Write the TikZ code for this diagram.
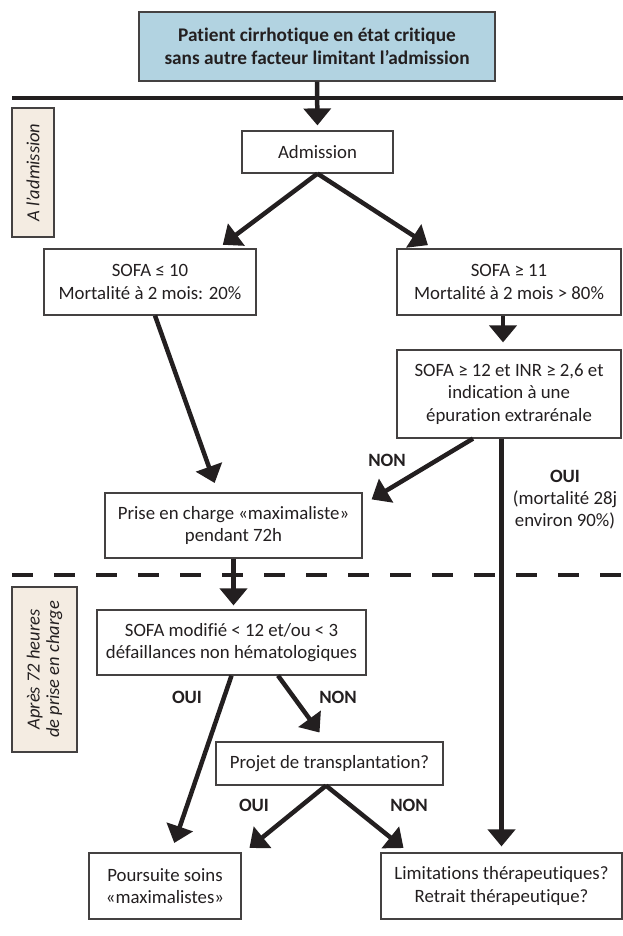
\documentclass[tikz,border=0pt]{standalone}
\usepackage{fontspec}
\setmainfont{Carlito}[Ligatures=NoCommon]
\usetikzlibrary{arrows.meta}

\definecolor{boxblue}{RGB}{178,211,225}
\definecolor{tagbeige}{RGB}{244,236,226}
\definecolor{inkgray}{RGB}{35,31,32}

\begin{document}
\begin{tikzpicture}[x=1pt,y=-1pt,font=\fontsize{18.8}{22.5}\selectfont,
		box/.style={draw=inkgray!85,line width=1.2pt,align=center,inner sep=0pt,text=inkgray},
		tag/.style={box,fill=tagbeige,rotate=90,font=\fontsize{18.5}{19.5}\selectfont\itshape},
		flow/.style={line width=4.5pt,draw=inkgray,-{Triangle[width=27pt,length=17pt]}},
		answer/.style={font=\fontsize{18.8}{22}\selectfont\bfseries,text=inkgray}]
			\useasboundingbox (0,0) rectangle (623,936);
			% boxes
			\node[box,fill=boxblue,minimum width=356pt,minimum height=69pt,font=\fontsize{19.3}{23}\selectfont\bfseries] (patient) at (317,46.5) {Patient cirrhotique en état critique\\sans autre facteur limitant l’admission};
			\node[box,minimum width=151pt,minimum height=42pt] (adm) at (317.5,152) {Admission};
			\node[box,minimum width=212pt,minimum height=66pt] (sofa10) at (150,282) {SOFA ≤ 10\\Mortalité à 2 mois: 20\%};
			\node[box,minimum width=224pt,minimum height=66pt] (sofa11) at (509,282) {SOFA ≥ 11\\Mortalité à 2 mois > 80\%};
			\node[box,minimum width=224pt,minimum height=88pt] (sofa12) at (509,394) {SOFA ≥ 12 et INR ≥ 2,6 et\\indication à une\\épuration extrarénale};
			\node[box,minimum width=257pt,minimum height=65pt] (prise) at (233.5,525.5) {Prise en charge «maximaliste»\\pendant 72h};
			\node[box,minimum width=269pt,minimum height=65pt] (sofamod) at (231.5,642.5) {SOFA modifié < 12 et/ou < 3\\défaillances non hématologiques};
			\node[box,minimum width=227pt,minimum height=43pt] (projet) at (329.5,763.5) {Projet de transplantation?};
			\node[box,minimum width=152pt,minimum height=66pt] (poursuite) at (165,886) {Poursuite soins\\«maximalistes»};
			\node[box,minimum width=241pt,minimum height=66pt] (limit) at (501.5,886) {Limitations thérapeutiques?\\Retrait thérapeutique?};
			% side tags
			\node[tag,minimum width=129pt,minimum height=42pt] (tagadm) at (33,172.5) {A l’admission};
			\node[tag,minimum width=165pt,minimum height=65pt] (tagapres) at (44.5,669.5) {Après 72 heures\\de prise en charge};
			% period rules
			\draw[line width=4.5pt,inkgray] (12,98) -- (623,98);
			\draw[line width=4.5pt,inkgray,dash pattern=on 21pt off 21pt] (12,575) -- (623,575);
			% arrows
			\draw[flow,shorten >=5pt] (patient.south) -- (adm.north);
			\draw[flow,shorten >=6pt] (adm.south) -- ([xshift=68pt]sofa10.north);
			\draw[flow,shorten >=6pt] (adm.south) -- ([xshift=-76pt]sofa11.north);
			\draw[flow,shorten >=7pt] ([xshift=-6pt]sofa11.south) -- ([xshift=-6pt]sofa12.north);
			\draw[flow,shorten >=10pt] ([xshift=5pt]sofa10.south) -- ([xshift=-15.5pt]prise.north);
			\draw[flow] ([xshift=-36pt]sofa12.south) -- ([xshift=9pt,yshift=-7pt]prise.north east);
			\draw[flow,shorten >=6pt] (limit.north |- sofa12.south) -- (limit.north);
			\draw[flow,shorten >=4pt] (prise.south) -- (prise.south |- sofamod.north);
			\draw[flow,shorten >=10pt] (sofamod.south) -- ([xshift=6pt]poursuite.north);
			\draw[flow,shorten >=11pt] ([xshift=46.5pt]sofamod.south) -- ([xshift=-3.5pt]projet.north);
			\draw[flow,shorten >=7pt] ([xshift=-3.5pt]projet.south) -- ([xshift=79pt]poursuite.north);
			\draw[flow,shorten >=7pt] ([xshift=-3.5pt]projet.south) -- ([xshift=-92.5pt]limit.north);
			% answers
			\node[answer] (non1) at (387,460) {NON};
			\node[answer,align=center,font=\fontsize{18.8}{22}\selectfont] (oui1) at (565,500) {\textbf{OUI}\\(mortalité 28j\\environ 90\%)};
			\node[answer] (oui2) at (187,697) {OUI};
			\node[answer] (non2) at (338,697) {NON};
			\node[answer] (oui3) at (254,805) {OUI};
			\node[answer] (non3) at (409,805) {NON};
		\end{tikzpicture}
\end{document}
